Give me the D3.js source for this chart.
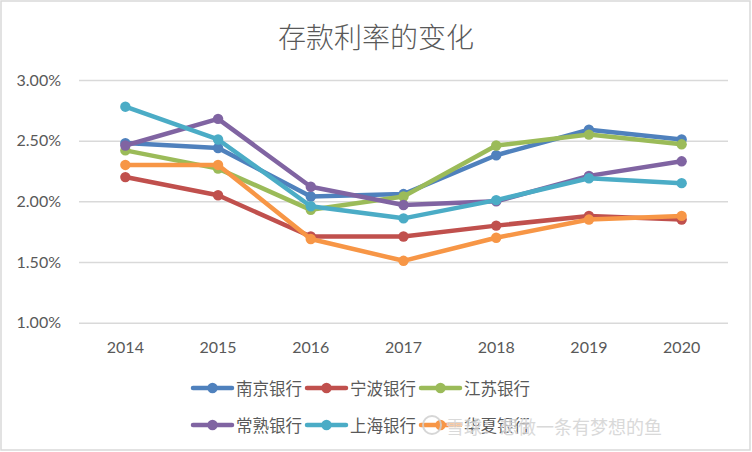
<!DOCTYPE html>
<html><head><meta charset="utf-8">
<script src="https://cdn.jsdelivr.net/npm/d3@7"></script>
<style>body{margin:0;background:#fff}svg{display:block}</style>
</head><body>
<script>
const years = ["2014","2015","2016","2017","2018","2019","2020"];
const bankNames = ["南京银行","宁波银行","江苏银行","常熟银行","上海银行","华夏银行"];
const nanjing = [2.48,2.44,2.04,2.06,2.38,2.59,2.51];
const ningbo  = [2.20,2.05,1.71,1.71,1.80,1.88,1.85];
const jiangsu = [2.42,2.27,1.93,2.04,2.46,2.55,2.47];
const changshu= [2.46,2.68,2.12,1.97,2.00,2.21,2.33];
const shanghai= [2.78,2.51,1.96,1.86,2.01,2.19,2.15];
const huaxia  = [2.30,2.30,1.69,1.51,1.70,1.85,1.88];
const yTicks = [1.0,1.5,2.0,2.5,3.0];
const colors = ["#4F81BD","#C0504D","#9BBB59","#8064A2","#4BACC6","#F79646"];
const seriesVals = [nanjing,ningbo,jiangsu,changshu,shanghai,huaxia];

const W=752,H=452;
const svg=d3.select("body").append("svg").attr("width",W).attr("height",H);
svg.append("rect").attr("x",1).attr("y",1).attr("width",749).attr("height",449)
  .attr("fill","#fff").attr("stroke","#d9d9d9").attr("stroke-width",1.5);

svg.append("text").attr("x",376).attr("y",36).attr("text-anchor","middle").attr("dominant-baseline","central")
  .attr("font-family","'Noto Sans CJK SC'").attr("font-weight",300).attr("font-size",28).attr("fill","#595959")
  .text("存款利率的变化");

const x=d3.scaleBand().domain(years).range([79,728]);
const y=d3.scaleLinear().domain([1.0,3.0]).range([322.7,80]);

const yAxis=svg.append("g").attr("transform","translate(79,0)")
  .call(d3.axisLeft(y).tickValues(yTicks).tickFormat(d=>d.toFixed(2)+"%").tickSize(-(728-79)).tickPadding(18));
yAxis.select(".domain").remove();
yAxis.selectAll(".tick line").attr("stroke","#d9d9d9").attr("stroke-width",1.5);
yAxis.selectAll(".tick text").attr("font-family","Lato, 'Open Sans', sans-serif").attr("font-size",16).attr("fill","#595959");

const xAxis=svg.append("g").attr("transform","translate(0,347.5)")
  .call(d3.axisBottom(x).tickSize(0).tickPadding(0));
xAxis.select(".domain").remove();
xAxis.selectAll(".tick text").attr("y",0).attr("dy","0.35em").attr("font-family","Lato, 'Open Sans', sans-serif").attr("font-size",16).attr("fill","#595959");

const line=d3.line().x((d,i)=>x(years[i])+x.bandwidth()/2).y(d=>y(d));
seriesVals.forEach((vals,k)=>{
  const g=svg.append("g");
  g.append("path").attr("d",line(vals)).attr("fill","none").attr("stroke",colors[k])
    .attr("stroke-width",4.5).attr("stroke-linejoin","round").attr("stroke-linecap","round");
  g.selectAll("circle").data(vals).join("circle")
    .attr("cx",(d,i)=>x(years[i])+x.bandwidth()/2).attr("cy",d=>y(d)).attr("r",5.2).attr("fill",colors[k]);
});

// legend
const legX=[193,307,421], legY=[388,425];
bankNames.forEach((name,k)=>{
  const lx=legX[k%3], ly=legY[Math.floor(k/3)];
  const g=svg.append("g");
  g.append("line").attr("x1",lx).attr("x2",lx+39).attr("y1",ly).attr("y2",ly).attr("stroke",colors[k]).attr("stroke-width",4.5).attr("stroke-linecap","round");
  g.append("circle").attr("cx",lx+19.5).attr("cy",ly).attr("r",5.2).attr("fill",colors[k]);
  g.append("text").attr("x",lx+43).attr("y",ly).attr("dominant-baseline","central")
    .attr("font-family","'Noto Sans CJK SC'").attr("font-size",16.5).attr("fill","#595959").text(name);
});

// watermark
const wm=svg.append("g").attr("opacity",0.85);
wm.append("circle").attr("cx",432).attr("cy",425).attr("r",9).attr("fill","none").attr("stroke","#d0d0d0").attr("stroke-width",2);
wm.append("text").attr("x",446).attr("y",426).attr("dominant-baseline","central")
  .attr("font-family","'Noto Sans CJK SC'").attr("font-size",18).attr("fill","#d3d3d3")
  .attr("stroke","#fff").attr("stroke-width",0.6).attr("paint-order","stroke")
  .text("雪球：想做一条有梦想的鱼");
</script>
</body></html>
